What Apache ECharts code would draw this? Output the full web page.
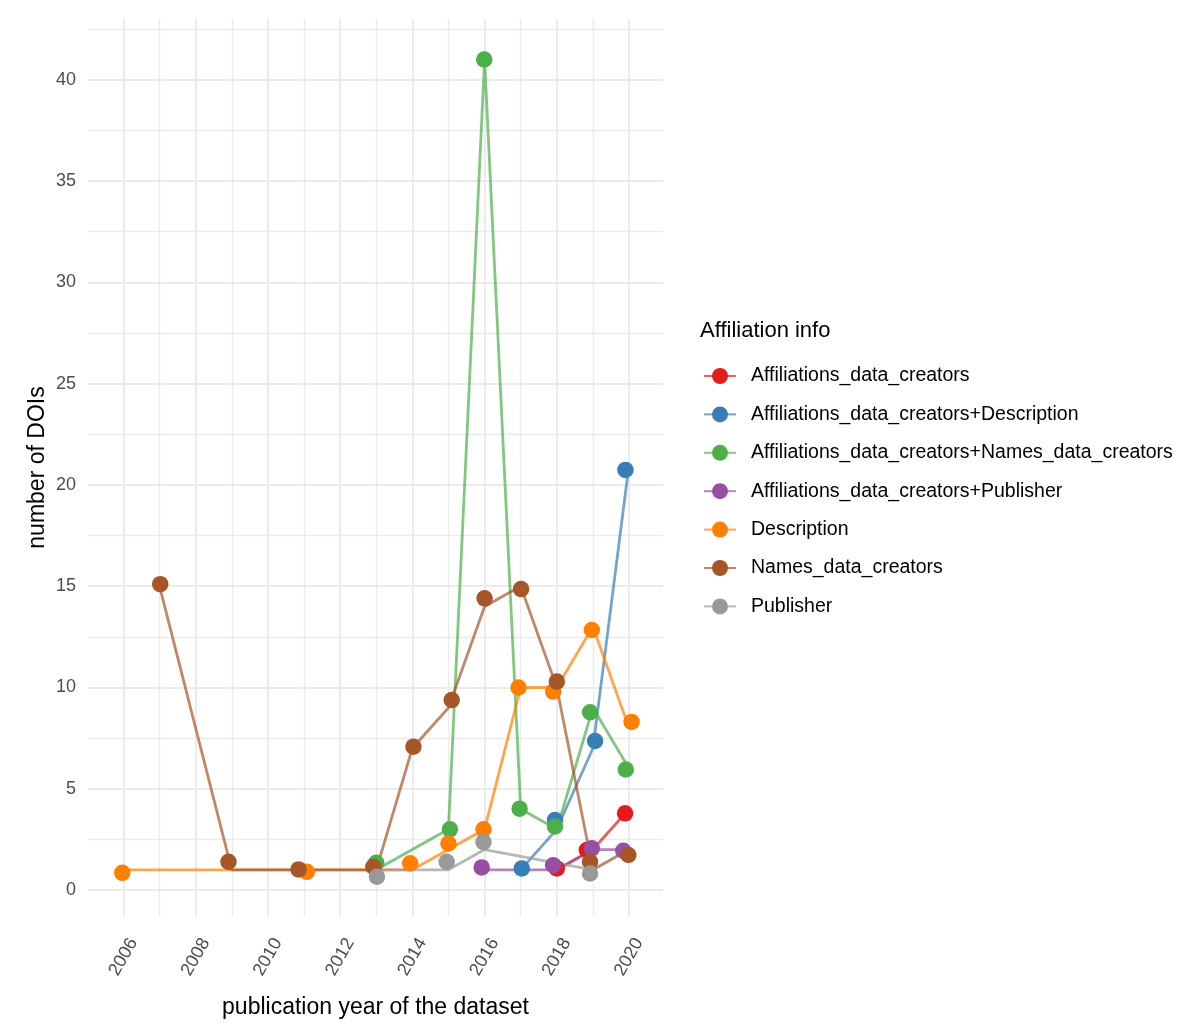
<!DOCTYPE html>
<html><head><meta charset="utf-8">
<script src="https://cdn.jsdelivr.net/npm/echarts@6/dist/echarts.min.js"></script>
<style>html,body{margin:0;padding:0;background:#fff}#c{width:1200px;height:1033px}</style>
</head><body><div id="c"></div>
<script>
// ---- data ----
const seriesNames = [
  'Affiliations_data_creators',
  'Affiliations_data_creators+Description',
  'Affiliations_data_creators+Names_data_creators',
  'Affiliations_data_creators+Publisher',
  'Description',
  'Names_data_creators',
  'Publisher'
];
const colors = ['#E41A1C','#377EB8','#4DAF4A','#984EA3','#FF7F00','#A65628','#999999'];

// line values [year, number of DOIs]
const lineAff      = [[2018,1],[2019,2],[2020,4]];
const lineAffDesc  = [[2017,1],[2018,3],[2019,7],[2020,21]];
const lineAffNames = [[2013,1],[2015,3],[2016,41],[2017,4],[2018,3],[2019,9],[2020,6]];
const lineAffPub   = [[2016,1],[2018,1],[2019,2],[2020,2]];
const lineDesc     = [[2006,1],[2011,1],[2014,1],[2015,2],[2016,3],[2017,10],[2018,10],[2019,13],[2020,8]];
const lineNames    = [[2007,15],[2009,1],[2011,1],[2013,1],[2014,7],[2015,9],[2016,14],[2017,15],[2018,10],[2019,1],[2020,2]];
const linePub      = [[2013,1],[2015,1],[2016,2],[2019,1]];

// jittered point positions [year, number of DOIs]
const ptsAff      = [[2018.0,1.07],[2018.83,1.98],[2019.89,3.79]];
const ptsAffDesc  = [[2017.03,1.07],[2017.95,3.46],[2019.06,7.36],[2019.9,20.74]];
const ptsAffNames = [[2013.0,1.35],[2015.04,3.0],[2015.99,41.0],[2016.97,4.02],[2017.95,3.14],[2018.92,8.78],[2019.91,5.95]];
const ptsAffPub   = [[2015.92,1.12],[2017.9,1.23],[2018.97,2.06],[2019.84,1.94]];
const ptsDesc     = [[2005.97,0.85],[2011.08,0.9],[2013.94,1.32],[2015.0,2.3],[2015.97,3.0],[2016.94,10.0],[2017.9,9.8],[2018.97,12.84],[2020.07,8.3]];
const ptsNames    = [[2007.02,15.1],[2008.91,1.4],[2010.85,1.02],[2012.92,1.15],[2014.03,7.08],[2015.09,9.38],[2016.0,14.4],[2017.01,14.86],[2018.0,10.29],[2018.92,1.4],[2019.98,1.73]];
const ptsPub      = [[2013.02,0.66],[2014.95,1.4],[2015.97,2.37],[2018.92,0.82]];

const lineData = [lineAff, lineAffDesc, lineAffNames, lineAffPub, lineDesc, lineNames, linePub];
const pointData = [ptsAff, ptsAffDesc, ptsAffNames, ptsAffPub, ptsDesc, ptsNames, ptsPub];

// ticks / gridlines
const xTickLabels = [2006,2008,2010,2012,2014,2016,2018,2020];
const xMajorGrid = [2006,2008,2010,2012,2014,2016,2018,2020];
const xMinorGrid = [2007,2009,2011,2013,2015,2017,2019];
const yTickLabels = [0,5,10,15,20,25,30,35,40];
const yMajorGrid = [0,5,10,15,20,25,30,35,40];
const yMinorGrid = [2.5,7.5,12.5,17.5,22.5,27.5,32.5,37.5,42.5];

// ---- chart ----
const chart = echarts.init(document.getElementById('c'), null, {renderer:'canvas'});
const FONT = 'Liberation Sans, Arial, sans-serif';

const gridLines = [];
xMajorGrid.forEach(v => gridLines.push({xAxis: v, lineStyle:{width:2}}));
xMinorGrid.forEach(v => gridLines.push({xAxis: v, lineStyle:{width:1.4}}));
yMajorGrid.forEach(v => gridLines.push({yAxis: v, lineStyle:{width:2}}));
yMinorGrid.forEach(v => gridLines.push({yAxis: v, lineStyle:{width:1.4}}));

const series = [{
  type:'line', name:'_grid', data:[], silent:true, animation:false, z:1,
  markLine:{
    silent:true, animation:false, symbol:['none','none'], z:1,
    label:{show:false},
    lineStyle:{color:'#EBEBEB', type:'solid'},
    emphasis:{disabled:true},
    data: gridLines
  }
}];
seriesNames.forEach((n,i) => {
  series.push({
    type:'line', name:n, data:lineData[i], symbol:'none', z:3,
    animation:false, silent:true,
    lineStyle:{color:colors[i], width:2.8, opacity:0.7},
    itemStyle:{color:colors[i]}
  });
});
seriesNames.forEach((n,i) => {
  series.push({
    type:'scatter', name:n+' points', data:pointData[i], symbol:'circle', symbolSize:16.5, z:4,
    animation:false, silent:true,
    itemStyle:{color:colors[i], opacity:1}
  });
});

chart.setOption({
  animation:false,
  backgroundColor:'#ffffff',
  textStyle:{fontFamily:FONT},
  title:{
    text:'Affiliation info', left:700, top:320, padding:0,
    textStyle:{fontFamily:FONT, fontSize:22, fontWeight:'normal', color:'#000'}
  },
  legend:{
    orient:'vertical', left:703, top:366, padding:0,
    itemWidth:32, itemHeight:20, itemGap:18.4,
    data: seriesNames,
    selectedMode:false,
    textStyle:{fontFamily:FONT, fontSize:19.5, color:'#000', padding:[0,0,0,10]}
  },
  grid:{left:88, right:537, top:19, bottom:117, containLabel:false, outerBoundsMode:'none'},
  xAxis:{
    type:'value', min:2005.02, max:2020.94,
    name:'publication year of the dataset', nameLocation:'middle', nameGap:80,
    nameTextStyle:{fontFamily:FONT, fontSize:23, color:'#000'},
    axisLine:{show:false}, axisTick:{show:false}, splitLine:{show:false},
    axisLabel:{
      customValues:xTickLabels, rotate:60, align:'center', verticalAlign:'middle',
      margin:41, fontSize:18, color:'#4D4D4D', fontFamily:FONT,
      formatter: v => String(Math.round(v))
    }
  },
  yAxis:{
    type:'value', min:-1.28, max:43.0,
    name:'number of DOIs', nameLocation:'middle', nameGap:39,
    nameTextStyle:{fontFamily:FONT, fontSize:23, color:'#000'},
    axisLine:{show:false}, axisTick:{show:false}, splitLine:{show:false},
    axisLabel:{customValues:yTickLabels, margin:12, fontSize:18, color:'#4D4D4D', fontFamily:FONT}
  },
  series: series
});
</script>
</body></html>
